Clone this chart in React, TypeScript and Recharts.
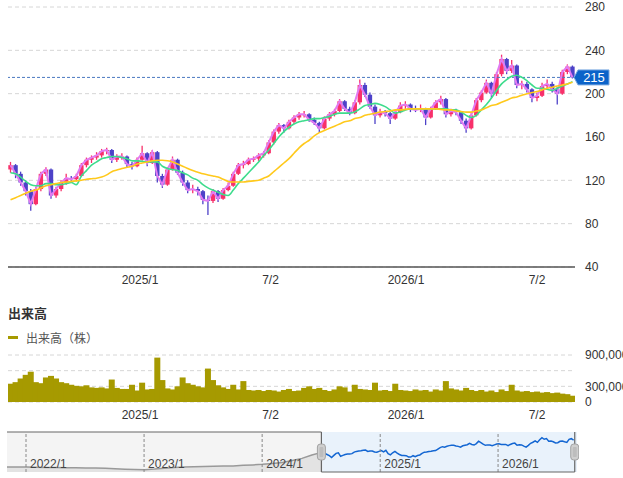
import React from "react";
import {
  ComposedChart,
  Bar,
  Line,
  Area,
  XAxis,
  YAxis,
  CartesianGrid,
  ReferenceLine,
  ReferenceArea,
} from "recharts";

// ---- weekly candles (2024/7 - 2026/8) ----
const opens = [
  130, 134, 126, 118, 110, 98, 112, 126, 130, 106, 112, 118, 122, 121, 124, 134, 139, 141, 143, 147,
  148, 139, 142, 142, 135, 133, 139, 145, 136, 146, 124, 116, 130, 139, 127, 118, 111, 112, 110, 102,
  101, 110, 103, 111, 115, 126, 134, 135, 139, 140, 143, 145, 155, 165, 171, 168, 174, 178, 181, 181,
  176, 173, 168, 177, 181, 184, 193, 186, 182, 192, 208, 199, 188, 180, 183, 182, 177, 183, 189, 190,
  186, 185, 186, 178, 186, 192, 195, 181, 184, 183, 175, 168, 180, 194, 201, 210, 200, 218, 232, 221,
  226, 208, 209, 204, 196, 198, 207, 209, 204, 200, 220, 225,
];
const highs = [
  137, 135, 128, 120, 112, 114, 128, 132, 131, 114, 120, 126, 124, 126, 136, 141, 143, 146, 149, 150,
  149, 144, 145, 143, 137, 141, 152, 146, 148, 147, 126, 132, 142, 140, 129, 120, 116, 114, 111, 106,
  112, 111, 113, 118, 128, 136, 138, 141, 142, 145, 147, 157, 167, 173, 172, 176, 180, 183, 184, 182,
  178, 174, 179, 183, 186, 195, 194, 188, 194, 213, 210, 201, 190, 186, 185, 183, 185, 192, 193, 191,
  189, 190, 187, 188, 194, 198, 196, 186, 186, 184, 177, 182, 196, 203, 213, 211, 220, 236, 233, 231,
  227, 212, 211, 205, 201, 210, 213, 211, 206, 222, 227, 226,
];
const lows = [
  127, 122, 115, 106, 92, 97, 110, 124, 103, 104, 110, 116, 118, 119, 123, 132, 136, 139, 141, 144,
  136, 137, 139, 132, 130, 132, 138, 133, 135, 118, 113, 115, 129, 125, 115, 108, 108, 106, 98, 88,
  99, 100, 102, 110, 114, 125, 131, 134, 137, 138, 141, 144, 153, 163, 164, 167, 172, 176, 178, 174,
  171, 164, 167, 175, 179, 183, 184, 180, 181, 190, 197, 186, 172, 178, 179, 172, 176, 182, 186, 183,
  183, 183, 171, 177, 185, 190, 178, 179, 180, 172, 164, 167, 179, 192, 200, 196, 198, 216, 218, 219,
  205, 204, 201, 192, 193, 197, 204, 201, 190, 199, 218, 214,
];
const closes = [
  134, 126, 118, 110, 98, 112, 126, 130, 106, 112, 118, 122, 121, 124, 134, 139, 141, 143, 147, 148,
  139, 142, 142, 135, 133, 139, 145, 136, 146, 124, 116, 130, 139, 127, 118, 111, 112, 110, 102, 101,
  110, 103, 111, 115, 126, 134, 135, 139, 140, 143, 145, 155, 165, 171, 168, 174, 178, 181, 181, 176,
  173, 168, 177, 181, 184, 193, 186, 182, 192, 208, 199, 188, 180, 183, 182, 177, 183, 189, 190, 186,
  185, 186, 178, 186, 192, 195, 181, 184, 183, 175, 168, 180, 194, 201, 210, 200, 218, 232, 221, 226,
  208, 209, 204, 196, 198, 207, 209, 204, 200, 220, 225, 215,
];
const ma25 = [
  127, 126, 123, 119, 116, 115, 115, 117, 117, 116, 116, 117, 118, 116, 124, 129, 134, 137, 140, 141,
  142, 142, 141, 140, 138, 138, 137.5, 137, 137, 137, 133, 131, 130, 129, 127, 125, 122, 120, 116, 113,
  111, 109, 107, 106, 111, 117, 122, 127, 132, 137, 143, 148, 154, 160, 165, 169, 172, 174, 175, 176,
  177, 177, 178, 179, 181, 182, 182, 182, 183, 186, 189, 190, 191, 190, 188, 185, 182, 183, 185, 186,
  186, 186, 186, 186, 186, 186, 186, 185, 185, 183, 180, 178, 180, 185, 190, 196, 203, 209, 213, 216,
  217, 215, 212, 208, 205, 205, 204, 203, 205, 207, 209, 211,
];
const ma75 = [
  102, 104, 106, 108, 110, 111, 113, 115, 116, 117, 118, 118.5, 119, 119.5, 120, 121, 121.5, 122, 123, 125,
  128, 129.5, 131, 132, 133, 135, 136, 137, 138, 138.5, 138.5, 138, 137, 135, 133, 131, 129, 127.5, 126, 125,
  124, 123, 121, 119, 118.5, 118.5, 118.5, 119, 119.5, 120, 122, 124, 128, 132, 136, 140, 145, 150, 154, 157,
  161, 164, 166, 168, 170, 172, 174, 175, 177, 178, 180, 181, 182, 183, 183.5, 184, 185, 185, 185.5, 186,
  186, 186, 186, 186, 186, 185.5, 185, 185, 184, 183.5, 183, 183, 184, 185, 187, 189, 190, 192, 194, 196,
  197, 198.5, 200, 201, 202, 203.5, 205, 206, 207, 208, 209, 210.5,
];
const volumes = [
  350000, 380000, 450000, 520000, 580000, 380000, 360000, 470000, 500000, 450000, 380000, 360000, 330000, 310000, 300000, 320000, 280000, 270000, 280000, 260000,
  430000, 270000, 250000, 250000, 330000, 220000, 370000, 240000, 250000, 850000, 420000, 260000, 240000, 300000, 470000, 360000, 330000, 300000, 280000, 640000,
  420000, 320000, 280000, 250000, 330000, 240000, 400000, 230000, 220000, 230000, 210000, 230000, 220000, 200000, 230000, 250000, 210000, 220000, 270000, 300000,
  250000, 270000, 230000, 210000, 240000, 300000, 280000, 200000, 330000, 250000, 240000, 230000, 370000, 220000, 230000, 210000, 350000, 230000, 220000, 210000,
  240000, 220000, 230000, 200000, 240000, 220000, 400000, 260000, 240000, 220000, 270000, 230000, 210000, 230000, 200000, 220000, 190000, 240000, 210000, 330000,
  220000, 200000, 210000, 190000, 200000, 180000, 190000, 170000, 180000, 160000, 150000, 120000,
];

// ---- axes ----
const xTickPos = [25.57, 51.35, 78.12, 103.99];
const xTickLabels = ["2025/1", "7/2", "2026/1", "7/2"];
const priceTicks = [40, 80, 120, 160, 200, 240, 280];
const volumeTicks = [0, 300000, 600000, 900000];
const volumeTickShown = [0, 300000, 900000];
const lastPrice = 215;

// ---- navigator (weeks since 2021/11) ----
const navHistWeeks = [
  0, 4.3, 8.7, 13, 17.4, 21.7, 26.1, 30.4, 34.8, 39.1, 43.5, 47.8, 52.2, 56.5, 60.9, 65.2, 69.6,
  73.9, 78.3, 82.6, 87, 91.3, 95.7, 100, 104.4, 108.7, 113, 117.4, 121.7, 126.1, 130.4, 134.8, 139.5,
];
const navHistValues = [
  33, 33, 33, 32, 31, 30, 29, 28, 27, 27, 25, 22, 19, 17, 16, 20, 26, 30, 33, 35, 37, 39, 40, 41, 45,
  48, 52, 58, 64, 78, 92, 115, 134,
];
const navYearWeeks = [8.4, 60.6, 112.8, 165.0, 217.1];
const navYearLabels = ["2022/1", "2023/1", "2024/1", "2025/1", "2026/1"];
const navSelStart = 139;
const navSelEnd = 251;
const navMax = 252;

const UP = "#f8306a";
const DOWN = "#4d42c8";
const VOL = "#a69a00";
const FONT = '"Liberation Sans", Arial, "Noto Sans CJK JP", sans-serif';
const JP = '"Noto Sans CJK JP", "Liberation Sans", sans-serif';

const priceData = closes.map((c, i) => ({
  i,
  o: opens[i],
  h: highs[i],
  l: lows[i],
  c,
  range: [lows[i], highs[i]],
  ma25: ma25[i],
  ma75: ma75[i],
  vol: volumes[i],
}));

const navHistData = navHistWeeks.map((x, k) => ({ x, v: navHistValues[k] }));
const navSelData = closes.map((c, i) => ({ x: navSelStart + 0.5 + i, v: c }));

const Candle = (props: any) => {
  const { x, y, width, height, payload } = props;
  if (!payload || height == null) return null;
  const { o, h, l, c } = payload;
  const cx = x + width / 2;
  const k = h === l ? 0 : height / (h - l);
  const yO = y + (h - o) * k;
  const yC = y + (h - c) * k;
  const color = c >= o ? UP : DOWN;
  const top = Math.min(yO, yC);
  const bh = Math.max(1, Math.abs(yO - yC));
  return (
    <g>
      <line x1={cx} x2={cx} y1={y} y2={y + height} stroke={color} strokeWidth={1.3} />
      <rect x={cx - 2.2} y={top} width={4.4} height={bh} fill={color} />
    </g>
  );
};

const VolBar = (props: any) => {
  const { x, y, width, height } = props;
  if (height == null || height <= 0) return null;
  const cx = x + width / 2;
  return <rect x={cx - 3} y={y} width={6} height={height} fill={VOL} />;
};

const PriceTag = (props: any) => {
  const vb = props.viewBox || {};
  const right = (vb.x || 0) + (vb.width || 0);
  const cy = vb.y || 0;
  const x0 = right + 3;
  const pts = `${right - 1},${cy} ${x0},${cy - 7.5} ${x0 + 31},${cy - 7.5} ${x0 + 31},${cy + 7.5} ${x0},${cy + 7.5}`;
  return (
    <g>
      <polygon points={pts} fill="#0b63c9" stroke="#7aa9e0" strokeWidth={1} />
      <text x={x0 + 16} y={cy + 5} textAnchor="middle" fill="#fff" fontSize={13} fontFamily={FONT}>
        {lastPrice}
      </text>
    </g>
  );
};

const Handle = (props: any) => {
  const vb = props.viewBox || {};
  const cx = vb.x || 0;
  const cy = (vb.y || 0) + (vb.height || 0) / 2;
  return (
    <g>
      <rect x={cx - 4} y={cy - 8} width={8} height={16} rx={3} fill="#cfcfcf" stroke="#a3a3a3" strokeWidth={1} />
      <rect x={cx - 2} y={cy - 5} width={4} height={10} rx={1} fill="#bdbdbd" />
    </g>
  );
};

const tickStyle = { fill: "#333", fontSize: 12, fontFamily: FONT };
const xFmt = (v: number) => {
  const k = xTickPos.indexOf(v);
  return k >= 0 ? xTickLabels[k] : "";
};
const volFmt = (v: number) => (volumeTickShown.includes(v) ? v.toLocaleString("en-US") : "");

export default function App() {
  return (
    <div
      style={{
        position: "relative",
        width: 623,
        height: 478,
        overflow: "hidden",
        background: "#fff",
        fontFamily: FONT,
      }}
    >
      <style>{"html,body{margin:0;padding:0;overflow:hidden;}"}</style>
      {/* main price chart */}
      <div style={{ position: "absolute", left: 0, top: 0, width: 623, height: 290 }}>
        <ComposedChart width={623} height={290} data={priceData} margin={{ top: 7, right: 0, left: 8, bottom: 0 }}>
          <CartesianGrid vertical={false} stroke="#d6d6d6" strokeDasharray="4 3" />
          <XAxis
            dataKey="i"
            type="number"
            domain={[-0.5, 111.5]}
            ticks={xTickPos}
            tickFormatter={xFmt}
            interval={0}
            axisLine={{ stroke: "#555", strokeWidth: 1.5 }}
            tickLine={false}
            tickSize={0}
            tickMargin={8}
            tick={tickStyle}
            height={23}
            allowDataOverflow
          />
          <YAxis
            orientation="right"
            domain={[40, 280]}
            ticks={priceTicks}
            interval={0}
            width={48}
            axisLine={false}
            tickLine={false}
            tickSize={0}
            tickMargin={10}
            tick={{ ...tickStyle, textAnchor: "start" }}
            allowDataOverflow
          />
          <ReferenceLine y={lastPrice} stroke="#4a78c0" strokeDasharray="3 2" label={(p: any) => <PriceTag {...p} />} />
          <Bar dataKey="range" barSize={5} shape={(p: any) => <Candle {...p} />} isAnimationActive={false} />
          <Line dataKey="c" type="linear" stroke="#e27af2" strokeWidth={2} dot={false} isAnimationActive={false} />
          <Line dataKey="ma25" type="monotone" stroke="#3ddc8c" strokeWidth={1.6} dot={false} isAnimationActive={false} />
          <Line dataKey="ma75" type="monotone" stroke="#ffc91c" strokeWidth={1.6} dot={false} isAnimationActive={false} />
        </ComposedChart>
      </div>

      {/* volume title & legend */}
      <div
        style={{
          position: "absolute",
          left: 8,
          top: 303,
          fontSize: 13,
          fontWeight: "bold",
          color: "#333",
          fontFamily: JP,
          lineHeight: "19px",
          whiteSpace: "nowrap",
        }}
      >
        出来高
      </div>
      <div style={{ position: "absolute", left: 8, top: 336, width: 10, height: 3, background: VOL }} />
      <div
        style={{
          position: "absolute",
          left: 26,
          top: 329,
          fontSize: 12,
          color: "#555",
          fontFamily: JP,
          lineHeight: "18px",
          whiteSpace: "nowrap",
        }}
      >
        出来高（株）
      </div>

      {/* volume chart */}
      <div style={{ position: "absolute", left: 0, top: 345, width: 623, height: 80 }}>
        <ComposedChart
          width={623}
          height={80}
          data={priceData}
          margin={{ top: 10, right: 0, left: 8, bottom: 0 }}
          barCategoryGap={0}
          barGap={0}
        >
          <CartesianGrid vertical={false} stroke="#d6d6d6" strokeDasharray="4 3" />
          <XAxis
            dataKey="i"
            type="number"
            domain={[-0.5, 111.5]}
            ticks={xTickPos}
            tickFormatter={xFmt}
            interval={0}
            axisLine={false}
            tickLine={false}
            tickSize={0}
            tickMargin={8}
            tick={tickStyle}
            height={23}
            allowDataOverflow
          />
          <YAxis
            orientation="right"
            domain={[0, 900000]}
            ticks={volumeTicks}
            tickFormatter={volFmt}
            interval={0}
            width={48}
            axisLine={false}
            tickLine={false}
            tickSize={0}
            tickMargin={10}
            tick={{ ...tickStyle, textAnchor: "start" }}
            allowDataOverflow
          />
          <Bar dataKey="vol" fill={VOL} barSize={5} shape={(p: any) => <VolBar {...p} />} isAnimationActive={false} />
        </ComposedChart>
      </div>

      {/* navigator */}
      <div style={{ position: "absolute", left: 6, top: 431, width: 573, height: 43 }}>
        <ComposedChart width={573} height={43} margin={{ top: 1, right: 2, bottom: 2, left: 1 }}>
          <XAxis type="number" dataKey="x" domain={[0, navMax]} hide allowDataOverflow />
          <YAxis type="number" domain={[0, 270]} hide allowDataOverflow />
          <ReferenceArea x1={0} x2={navSelStart} fill="#f4f4f4" fillOpacity={1} stroke="none" />
          <ReferenceArea x1={navSelStart} x2={navMax} fill="#e9f2fb" fillOpacity={1} stroke="none" />
          <Area
            data={navHistData}
            dataKey="v"
            type="linear"
            stroke="#999"
            strokeWidth={1.5}
            fill="#e3e3e3"
            fillOpacity={1}
            dot={false}
            isAnimationActive={false}
          />
          <Area
            data={navSelData}
            dataKey="v"
            type="linear"
            stroke="#1366d2"
            strokeWidth={1.5}
            fill="#e9f2fb"
            fillOpacity={1}
            dot={false}
            isAnimationActive={false}
          />
          {navYearWeeks.map((w, k) => (
            <ReferenceLine
              key={w}
              x={w}
              stroke="#888"
              strokeDasharray="3 2"
              label={{
                value: navYearLabels[k],
                position: "insideBottomLeft",
                offset: 4,
                fill: "#444",
                fontSize: 12,
                fontFamily: FONT,
              }}
            />
          ))}
          <ReferenceLine segment={[{ x: 0, y: 270 }, { x: navSelStart, y: 270 }]} stroke="#666" strokeWidth={1.2} />
          <ReferenceLine segment={[{ x: navSelStart, y: 0 }, { x: navSelEnd, y: 0 }]} stroke="#666" strokeWidth={1.2} />
          <ReferenceLine x={navSelStart} stroke="#666" strokeWidth={1.2} label={(p: any) => <Handle {...p} />} />
          <ReferenceLine x={navSelEnd} stroke="#666" strokeWidth={1.2} label={(p: any) => <Handle {...p} />} />
        </ComposedChart>
      </div>
    </div>
  );
}
